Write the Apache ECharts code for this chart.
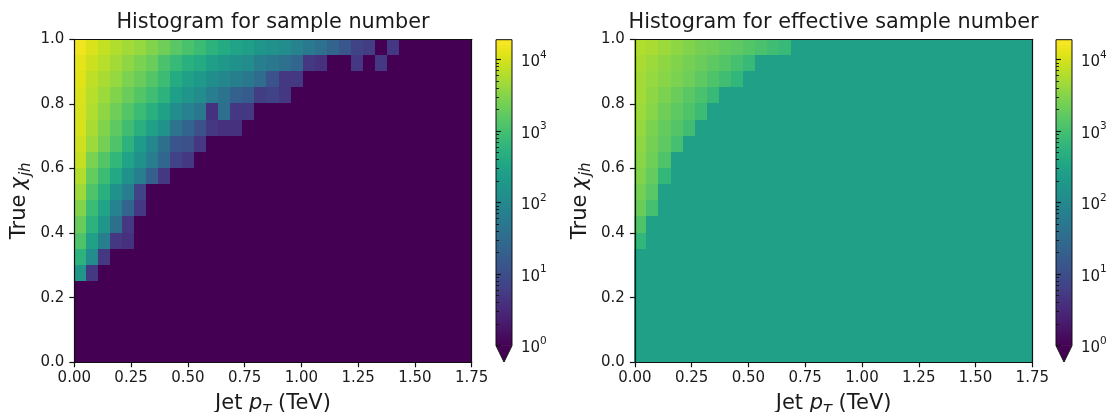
<!DOCTYPE html>
<html>
<head>
<meta charset="utf-8">
<script src="https://cdn.jsdelivr.net/npm/echarts@6/dist/echarts.min.js"></script>
<style>
html,body{margin:0;padding:0;background:#fff;}
#chart{width:1110px;height:412px;}
</style>
</head>
<body>
<div id="chart"></div>
<script>
// ---------------- data ----------------
const xBinCount = 33;            // jet pT bins over 0 - 1.75 TeV
const yBinCount = 20;            // true chi bins over 0 - 1.0
const xMax = 1.75;
const yMax = 1.0;
const xTickValues = [0, 0.25, 0.5, 0.75, 1.0, 1.25, 1.5, 1.75];
const yTickValues = [0, 0.2, 0.4, 0.6, 0.8, 1.0];
const colorbarTicks = [1, 10, 100, 1000, 10000];
const colorbarMax = 19000;
const titles = ['Histogram for sample number', 'Histogram for effective sample number'];

// rows listed from the top bin (0.95-1.0) downwards, columns from pT = 0; missing = empty
const sampleCounts = [
  [15700, 10600, 7900, 5900, 4800, 4000, 3000, 2200, 1480, 1100, 820, 550, 410, 300, 250, 170, 140, 114, 77, 57, 38, 23, 14, 7, 6, 0, 5],
  [12900, 8700, 6500, 4800, 3600, 2700, 2000, 1100, 740, 500, 410, 250, 185, 140, 114, 70, 52, 38, 26, 5, 4, 0, 0, 5, 0, 5],
  [11700, 7200, 5300, 4000, 2700, 2000, 1340, 820, 410, 275, 205, 125, 93, 70, 52, 32, 12, 5, 5],
  [10600, 6500, 4400, 3000, 2000, 1340, 900, 550, 250, 170, 114, 63, 42, 21, 17, 6, 7, 5],
  [10000, 5900, 3600, 2200, 1340, 820, 500, 275, 114, 77, 52, 4, 35, 5, 5],
  [10000, 5300, 3000, 1630, 900, 500, 275, 140, 42, 23, 11, 5, 4, 4],
  [9000, 4400, 2400, 1210, 550, 225, 93, 35, 13, 11, 5],
  [8000, 2700, 1340, 670, 300, 140, 63, 26, 7, 5],
  [6000, 1800, 820, 370, 140, 70, 19, 5],
  [4500, 1210, 500, 140, 63, 7],
  [3000, 820, 300, 77, 23, 5],
  [1900, 550, 170, 35, 5],
  [1200, 275, 70, 5, 4],
  [550, 114, 5],
  [170, 5]
];

const effCounts = [
  [5900, 5300, 4400, 3600, 3000, 2400, 2200, 1800, 1630, 1340, 1100, 900, 740],
  [5300, 4400, 3600, 3000, 2400, 2000, 1630, 1340, 1000, 740],
  [4800, 4000, 3300, 2700, 2200, 1630, 1210, 900, 670],
  [4800, 3600, 2700, 2000, 1480, 1100, 740],
  [4400, 3300, 2200, 1630, 1210, 820],
  [4000, 2700, 1800, 1340, 900],
  [3600, 2400, 1630, 1000],
  [3300, 2200, 1210],
  [3000, 1800, 670],
  [2400, 1480],
  [2000, 1000],
  [1210],
  [670]
];
const effBackground = 265;

// ---------------- styling ----------------
const viridis = ['#440154','#471365','#482475','#463480','#414487','#3b528b','#355f8d',
  '#2f6c8e','#2a788e','#25848e','#21918c','#1e9c89','#22a884','#2fb47c','#44bf70',
  '#5ec962','#7ad151','#9bd93c','#bddf26','#dfe318','#fde725'];
const FONT = 'DejaVu Sans';
const TXT = '#1a1a1a';
const LINE = '#111';
const plots = [
  {left: 74.3, top: 39.3, width: 397.4, height: 323},
  {left: 634.9, top: 39.3, width: 397.4, height: 323}
];
const bars = [
  {left: 496, top: 39.7, width: 16, height: 306, tri: 16.3},
  {left: 1056, top: 39.7, width: 16, height: 306, tri: 16.3}
];

const dx = xMax / xBinCount, dy = yMax / yBinCount;
function buildCells(rows, fill) {
  const out = [];
  for (let r = 0; r < yBinCount; r++) {
    for (let c = 0; c < xBinCount; c++) {
      const row = rows[r];
      const v = (row && row[c] !== undefined) ? row[c] : fill;
      out.push([c * dx, (yBinCount - 1 - r) * dy, v > 0 ? Math.log10(v) : -1]);
    }
  }
  return out;
}
function renderCell(params, api) {
  const x0 = api.value(0), y0 = api.value(1);
  const p0 = api.coord([x0, y0]);
  const p1 = api.coord([x0 + dx, y0 + dy]);
  const l = Math.floor(p0[0]), r = Math.ceil(p1[0]);
  const t = Math.floor(p1[1]), b = Math.ceil(p0[1]);
  return {type: 'rect', shape: {x: l, y: t, width: r - l, height: b - t},
    style: {fill: api.visual('color')}};
}

const axisLineStyle = {color: LINE, width: 1.2};
const labelStyle = {fontFamily: FONT, fontSize: 15, color: TXT};
const xNameRich = {
  n: {fontFamily: FONT, fontSize: 21, color: TXT, lineHeight: 27, verticalAlign: 'middle'},
  i: {fontFamily: FONT, fontSize: 21, fontStyle: 'italic', color: TXT, lineHeight: 27, verticalAlign: 'middle'},
  s: {fontFamily: FONT, fontSize: 14.5, fontStyle: 'italic', color: TXT, lineHeight: 14.5, verticalAlign: 'bottom'}
};
const yNameRich = {
  n: {fontFamily: FONT, fontSize: 21, color: TXT, lineHeight: 27, verticalAlign: 'middle'},
  i: {fontFamily: FONT, fontSize: 21, fontStyle: 'italic', color: TXT, lineHeight: 27, verticalAlign: 'middle', padding: [0, 1, 0, 5]},
  s: {fontFamily: FONT, fontSize: 15, fontStyle: 'italic', color: TXT, lineHeight: 15, verticalAlign: 'bottom'}
};
const frameAxis = (gi, pos, max) => ({gridIndex: gi, type: 'value', position: pos, min: 0, max: max, z: 10,
  axisLine: {show: true, onZero: false, lineStyle: axisLineStyle}, axisTick: {show: false},
  axisLabel: {show: false}, splitLine: {show: false}});

const xAxes = [], yAxes = [], grids = [], series = [], graphics = [];
plots.forEach((p, k) => {
  grids.push({left: p.left, top: p.top, width: p.width, height: p.height, containLabel: false, outerBoundsMode: 'none'});
  const gi = grids.length - 1;
  xAxes.push({gridIndex: gi, type: 'value', position: 'bottom', min: 0, max: xMax, interval: 0.25, z: 10,
    axisLine: {show: true, onZero: false, lineStyle: axisLineStyle},
    axisTick: {show: true, length: 5, lineStyle: {color: LINE, width: 1.2}},
    axisLabel: Object.assign({margin: 8, formatter: v => v.toFixed(2), showMinLabel: true, showMaxLabel: true}, labelStyle),
    splitLine: {show: false},
    name: '{n|Jet }{i|p}{s|T}{n| (TeV)}', nameLocation: 'middle', nameGap: 28,
    nameTextStyle: {rich: xNameRich}});
  yAxes.push({gridIndex: gi, type: 'value', position: 'left', min: 0, max: yMax, interval: 0.2, z: 10,
    axisLine: {show: true, onZero: false, lineStyle: axisLineStyle},
    axisTick: {show: true, length: 5, lineStyle: {color: LINE, width: 1.2}},
    axisLabel: Object.assign({margin: 10, formatter: v => v.toFixed(1), showMinLabel: true, showMaxLabel: true}, labelStyle),
    splitLine: {show: false},
    name: '{n|True}{i|χ}{s|jh}', nameLocation: 'middle', nameRotate: 90, nameGap: 41,
    nameTextStyle: {rich: yNameRich}});
  const xi = xAxes.length - 1, yi = yAxes.length - 1;
  xAxes.push(frameAxis(gi, 'top', xMax));
  yAxes.push(frameAxis(gi, 'right', yMax));
  series.push({type: 'custom', xAxisIndex: xi, yAxisIndex: yi, clip: true,
    data: buildCells(k === 0 ? sampleCounts : effCounts, k === 0 ? 0 : effBackground),
    encode: {x: 0, y: 1}, renderItem: renderCell, emphasis: {disabled: true}, silent: true});
  graphics.push({type: 'text', x: p.left + p.width / 2, y: 22.5, z: 20,
    style: {text: titles[k], fontFamily: FONT, fontSize: 20.8, fill: TXT, align: 'center', verticalAlign: 'middle'}});
});

bars.forEach(b => {
  grids.push({left: b.left, top: b.top, width: b.width, height: b.height, containLabel: false, outerBoundsMode: 'none'});
  const gi = grids.length - 1;
  xAxes.push({gridIndex: gi, type: 'value', show: false, min: 0, max: 1});
  yAxes.push({gridIndex: gi, type: 'log', logBase: 10, min: 1, max: colorbarMax, position: 'right', z: 10,
    axisLine: {show: false},
    axisTick: {show: true, length: 5, customValues: colorbarTicks, lineStyle: {color: LINE, width: 1.1}},
    minorTick: {show: true, splitNumber: 9, length: 3, lineStyle: {color: LINE, width: 0.9}},
    axisLabel: {margin: 9, customValues: colorbarTicks,
      formatter: v => {
        const e = Math.round(Math.log10(v));
        return Math.abs(Math.pow(10, e) - v) < 1e-6 * v ? '{b|10}{e|' + e + '}' : '';
      },
      rich: {
        b: {fontFamily: FONT, fontSize: 15, color: TXT, lineHeight: 20, verticalAlign: 'bottom'},
        e: {fontFamily: FONT, fontSize: 10.5, color: TXT, lineHeight: 11, verticalAlign: 'top'}
      }},
    splitLine: {show: false}});
  graphics.push({type: 'rect', z: 1,
    shape: {x: b.left, y: b.top, width: b.width, height: b.height},
    style: {fill: {type: 'linear', x: 0, y: 1, x2: 0, y2: 0,
      colorStops: viridis.map((c, i) => ({offset: i / (viridis.length - 1), color: c}))}}});
  graphics.push({type: 'polygon', z: 1,
    shape: {points: [[b.left, b.top + b.height - 0.5], [b.left + b.width, b.top + b.height - 0.5],
      [b.left + b.width / 2, b.top + b.height + b.tri]]},
    style: {fill: viridis[0]}});
  graphics.push({type: 'polygon', z: 2,
    shape: {points: [[b.left, b.top], [b.left + b.width, b.top], [b.left + b.width, b.top + b.height],
      [b.left + b.width / 2, b.top + b.height + b.tri], [b.left, b.top + b.height]]},
    style: {fill: null, stroke: LINE, lineWidth: 1}});
});

const chart = echarts.init(document.getElementById('chart'), null, {renderer: 'canvas'});
chart.setOption({
  animation: false,
  backgroundColor: '#fff',
  grid: grids,
  xAxis: xAxes,
  yAxis: yAxes,
  visualMap: {type: 'continuous', show: false, seriesIndex: [0, 1], dimension: 2,
    min: 0, max: Math.log10(colorbarMax), inRange: {color: viridis}, outOfRange: {color: viridis[0]}},
  series: series,
  graphic: graphics
});
</script>
</body>
</html>
